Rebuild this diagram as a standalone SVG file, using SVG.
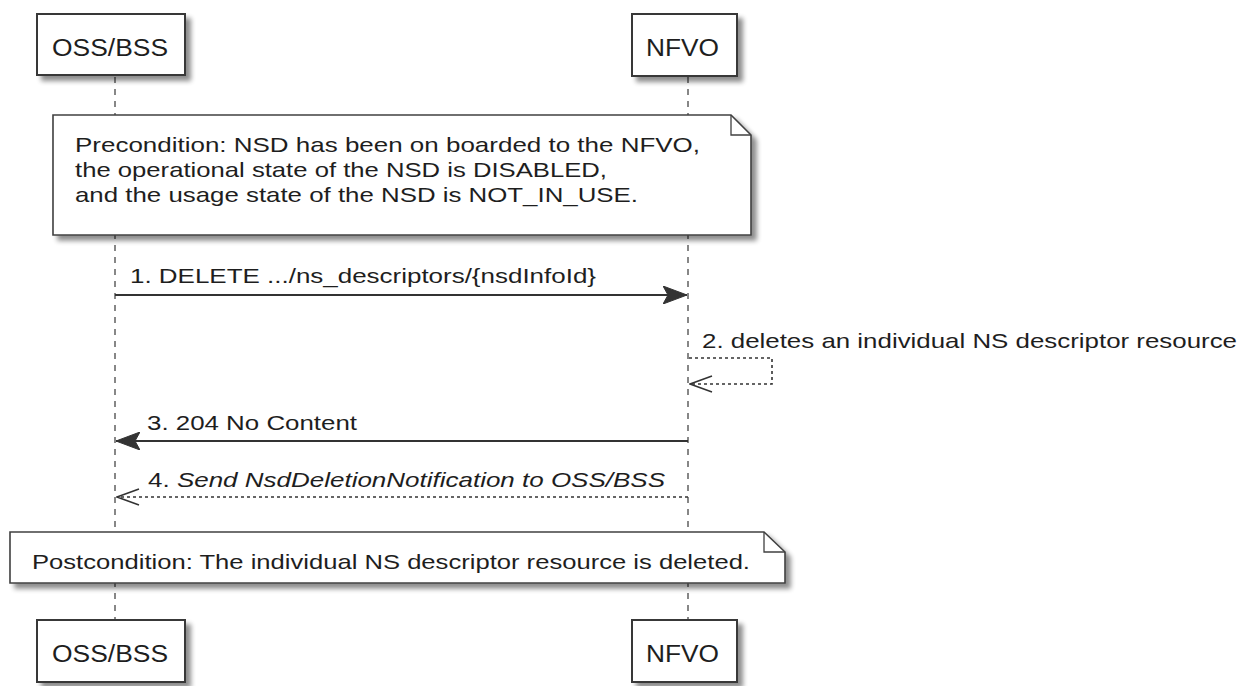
<svg xmlns="http://www.w3.org/2000/svg" width="1241" height="686" viewBox="0 0 1241 686">
  <defs>
    <filter id="shadow" x="-10%" y="-10%" width="130%" height="140%">
      <feGaussianBlur in="SourceAlpha" stdDeviation="2.5"/>
      <feOffset dx="5" dy="5" result="blur"/>
      <feComponentTransfer><feFuncA type="linear" slope="0.45"/></feComponentTransfer>
      <feMerge><feMergeNode/><feMergeNode in="SourceGraphic"/></feMerge>
    </filter>
    <marker id="solidHead" viewBox="0 0 24 18" refX="24" refY="9" markerWidth="24" markerHeight="18" markerUnits="userSpaceOnUse" orient="auto">
      <path d="M0,0 L24,9 L0,18 L5,9 Z" fill="#333" stroke="#333" stroke-width="1"/>
    </marker>
    <marker id="openHead" viewBox="0 0 24 18" refX="23" refY="9" markerWidth="24" markerHeight="18" markerUnits="userSpaceOnUse" orient="auto">
      <path d="M1,1 L23,9 L1,17" fill="none" stroke="#333" stroke-width="1.5"/>
    </marker>
  </defs>
  <style>
    text { font-family: "Liberation Sans", Arial, sans-serif; fill: #1e1e1e; }
    .pbox { fill: #ffffff; stroke: #383838; stroke-width: 2; }
    .ptext { font-size: 23px; }
    .note { fill: #ffffff; stroke: #404040; stroke-width: 1.6; }
    .ear { fill: none; stroke: #404040; stroke-width: 1.3; }
    .ntext { font-size: 21px; }
    .mtext { font-size: 21px; }
    .life { stroke: #555; stroke-width: 1.4; stroke-dasharray: 6 6; fill: none; }
    .solid { stroke: #333; stroke-width: 2; fill: none; }
    .dotted { stroke: #333; stroke-width: 1.6; stroke-dasharray: 3 3; fill: none; }
  </style>
  <rect width="1241" height="686" fill="#ffffff"/>

  <!-- lifelines -->
  <g id="lifelines">
    <line class="life" x1="115" y1="77" x2="115" y2="620"/>
    <line class="life" x1="688" y1="77" x2="688" y2="620"/>
  </g>

  <!-- participants, top -->
  <g id="oss-top">
    <rect class="pbox" x="37" y="14" width="148" height="61" filter="url(#shadow)"/>
    <text class="ptext" x="52" y="56" textLength="116" lengthAdjust="spacingAndGlyphs">OSS/BSS</text>
  </g>
  <g id="nfvo-top">
    <rect class="pbox" x="632" y="14" width="105" height="62" filter="url(#shadow)"/>
    <text class="ptext" x="646" y="56" textLength="73" lengthAdjust="spacingAndGlyphs">NFVO</text>
  </g>

  <!-- precondition note -->
  <g id="note-pre">
    <path class="note" d="M53,115 L731,115 L751,135 L751,235 L53,235 Z" filter="url(#shadow)"/>
    <path class="ear" d="M731,115 L731,135 L751,135"/>
    <text class="ntext" x="75" y="152" textLength="625" lengthAdjust="spacingAndGlyphs">Precondition: NSD has been on boarded to the NFVO,</text>
    <text class="ntext" x="75" y="177" textLength="532" lengthAdjust="spacingAndGlyphs">the operational state of the NSD is DISABLED,</text>
    <text class="ntext" x="75" y="202" textLength="563" lengthAdjust="spacingAndGlyphs">and the usage state of the NSD is NOT_IN_USE.</text>
  </g>

  <!-- messages -->
  <g id="connectors">
    <line class="solid" x1="115" y1="295" x2="687" y2="295" marker-end="url(#solidHead)"/>
    <polyline class="dotted" points="689,358 772,358 772,384 690,384" marker-end="url(#openHead)"/>
    <line class="solid" x1="688" y1="441" x2="116" y2="441" marker-end="url(#solidHead)"/>
    <line class="dotted" x1="688" y1="497" x2="117" y2="497" marker-end="url(#openHead)"/>
  </g>
  <g id="labels">
    <text class="mtext" x="130" y="283" textLength="466" lengthAdjust="spacingAndGlyphs">1. DELETE .../ns_descriptors/{nsdInfoId}</text>
    <text class="mtext" x="702" y="348" textLength="535" lengthAdjust="spacingAndGlyphs">2. deletes an individual NS descriptor resource</text>
    <text class="mtext" x="147" y="430" textLength="210" lengthAdjust="spacingAndGlyphs">3. 204 No Content</text>
    <text class="mtext" x="148" y="487" textLength="517" lengthAdjust="spacingAndGlyphs">4. <tspan font-style="italic">Send NsdDeletionNotification to OSS/BSS</tspan></text>
  </g>

  <!-- postcondition note -->
  <g id="note-post">
    <path class="note" d="M10,532 L764,532 L785,552 L785,583 L10,583 Z" filter="url(#shadow)"/>
    <path class="ear" d="M764,532 L764,552 L785,552"/>
    <text class="ntext" x="32" y="569" textLength="718" lengthAdjust="spacingAndGlyphs">Postcondition: The individual NS descriptor resource is deleted.</text>
  </g>

  <!-- participants, bottom -->
  <g id="oss-bottom">
    <rect class="pbox" x="37" y="620" width="148" height="62" filter="url(#shadow)"/>
    <text class="ptext" x="52" y="662" textLength="116" lengthAdjust="spacingAndGlyphs">OSS/BSS</text>
  </g>
  <g id="nfvo-bottom">
    <rect class="pbox" x="632" y="620" width="105" height="62" filter="url(#shadow)"/>
    <text class="ptext" x="646" y="662" textLength="73" lengthAdjust="spacingAndGlyphs">NFVO</text>
  </g>
</svg>
